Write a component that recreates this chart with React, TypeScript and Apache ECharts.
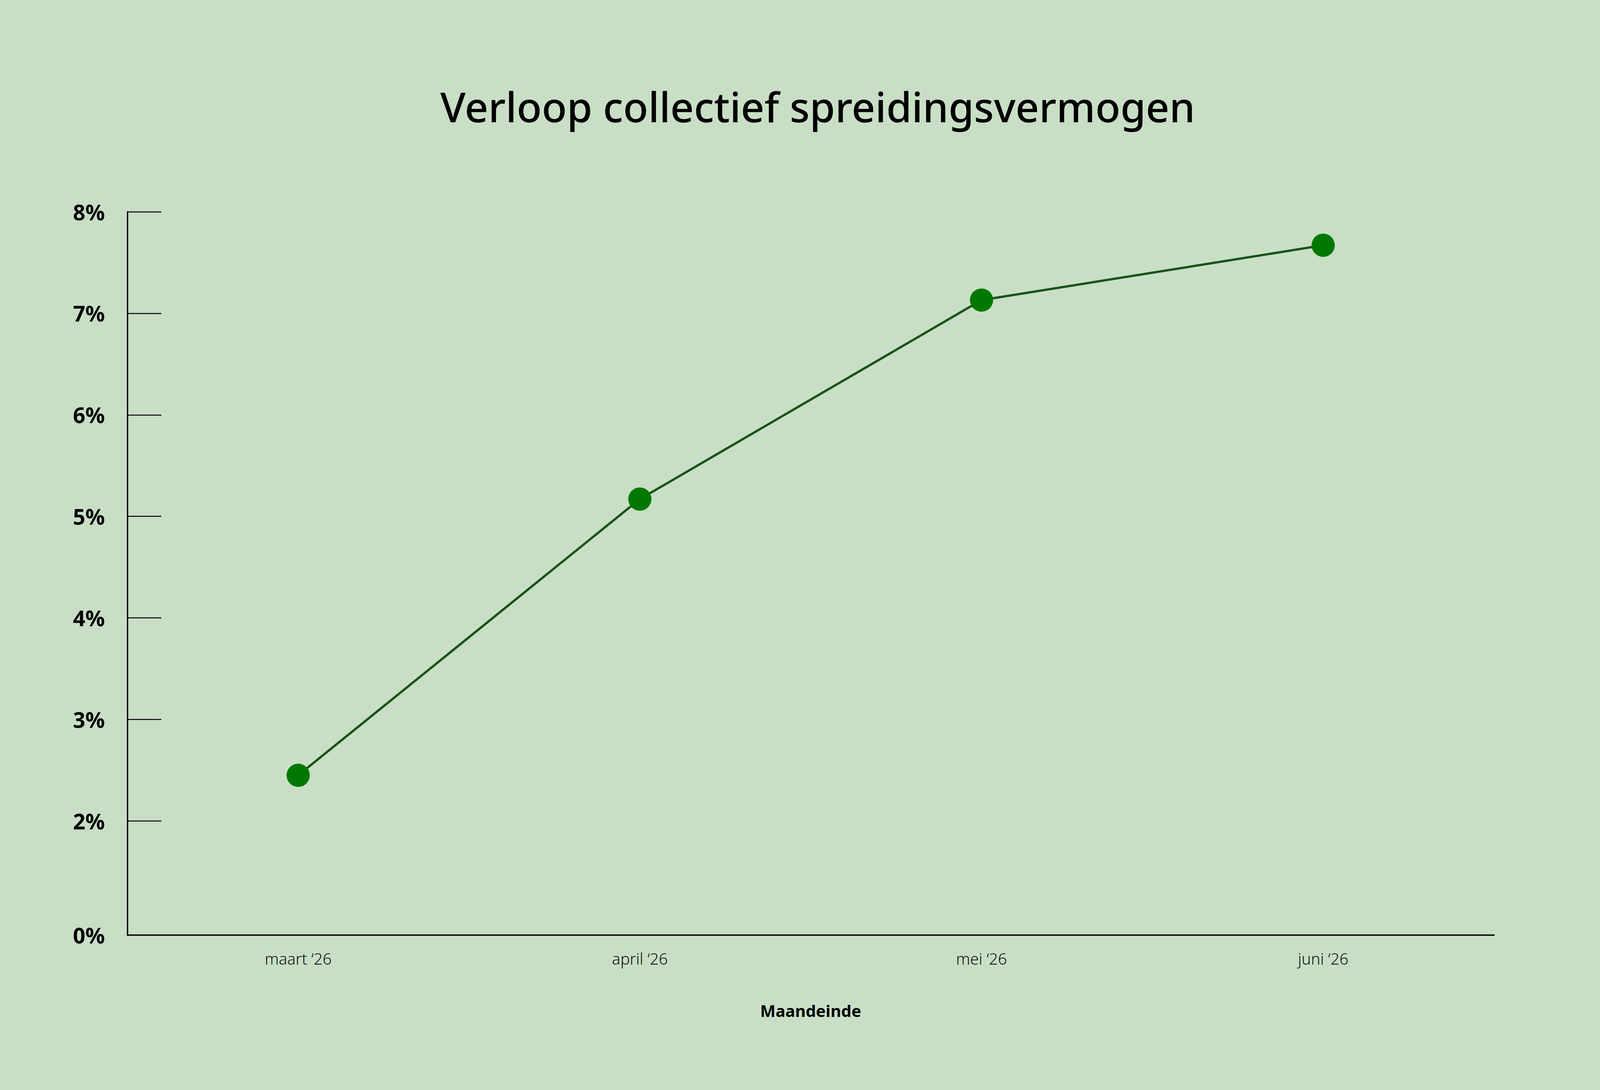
import { useEffect, useRef, useState } from 'react'
import * as echarts from 'echarts'

const TITLE = 'Verloop collectief spreidingsvermogen'
const X_NAME = 'Maandeinde'
const months = ['maart ‘26', 'april ‘26', 'mei ‘26', 'juni ‘26']
const spreiding = [2.45, 5.17, 7.13, 7.67]
const yTicks = [2, 3, 4, 5, 6, 7, 8]
// the axis is cut off below 2%; its bottom edge is labelled 0%
const Y_BOTTOM = 0.878
const Y_TOP = 8

// layout was measured on a 5692 x 2790 canvas and is stretched to the window
const BASE_W = 5692
const BASE_H = 2790
const FONT = '"Noto Sans", sans-serif'

export default function App() {
  const ref = useRef<HTMLDivElement>(null)
  const [size] = useState(() => ({ w: window.innerWidth, h: window.innerHeight }))

  useEffect(() => {
    document.body.style.margin = '0'
    if (!ref.current) {
      return
    }
    const kx = size.w / BASE_W
    const ky = size.h / BASE_H
    const sx = (v: number) => v * kx
    const sy = (v: number) => v * ky
    // text follows the horizontal scale so widths keep their share of the page
    const fs = (v: number) => v * kx
    const km = Math.sqrt(kx * ky)

    const chart = echarts.init(ref.current, null, { renderer: 'svg' })

    chart.setOption({
      animation: false,
      backgroundColor: '#c8dfc6',
      graphic: [
        {
          type: 'text',
          x: sx(2909),
          y: sy(272),
          style: {
            text: TITLE,
            font: `500 ${fs(146)}px ${FONT}`,
            fill: '#000',
            textAlign: 'center',
            textVerticalAlign: 'middle',
          },
        },
      ],
      grid: { left: sx(453), top: sy(542), width: sx(4862), height: sy(1851) },
      xAxis: {
        type: 'category',
        data: months,
        boundaryGap: true,
        name: X_NAME,
        nameLocation: 'middle',
        nameGap: sy(172),
        nameTextStyle: { fontFamily: FONT, fontSize: fs(58), fontWeight: 'bold', color: '#000' },
        axisLine: { lineStyle: { color: '#000', width: 4 * km } },
        axisTick: { inside: true, length: sy(40), lineStyle: { color: '#000', width: 3 * km } },
        axisLabel: { margin: sy(40), fontFamily: FONT, fontSize: fs(56), fontWeight: 300, color: '#111' },
        splitLine: { show: false },
      },
      yAxis: {
        type: 'value',
        min: Y_BOTTOM,
        max: Y_TOP,
        axisLine: { show: true, lineStyle: { color: '#000', width: 4 * km } },
        axisTick: {
          show: true,
          inside: true,
          length: sx(121),
          customValues: yTicks,
          lineStyle: { color: '#000', width: 3 * km },
        },
        axisLabel: {
          margin: sx(80),
          customValues: [Y_BOTTOM, ...yTicks],
          formatter: (v: number) => (v < 1 ? '0%' : `${Math.round(v)}%`),
          fontFamily: FONT,
          fontSize: fs(77),
          fontWeight: 'bold',
          color: '#000',
        },
        splitLine: { show: false },
      },
      series: [
        {
          type: 'line',
          data: spreiding,
          symbol: 'circle',
          symbolSize: 70 * km,
          itemStyle: { color: '#007800' },
          lineStyle: { color: '#1b5219', width: 7 * km },
          z: 3,
        },
      ],
    })

    return () => {
      chart.dispose()
    }
  }, [size])

  return <div ref={ref} style={{ width: size.w, height: size.h }} />
}
